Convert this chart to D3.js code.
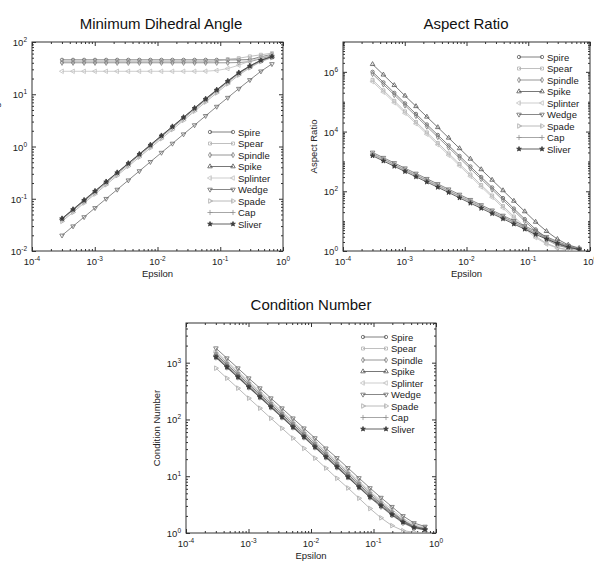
<!DOCTYPE html>
<html>
<head>
<meta charset="utf-8">
<script src="https://cdn.jsdelivr.net/npm/d3@7"></script>
<style>
    body { margin: 0; background: #fff; }
    svg { display: block; font-family: "Liberation Sans", Arial, sans-serif; }
</style>
</head>
<body>
<svg id="chart" width="594" height="566"></svg>
<script>
// shared x values (epsilon), ascending
const epsilon = [0.000301, 0.000451, 0.000677, 0.00101, 0.00152, 0.00228, 0.00343, 0.00514, 0.00771, 0.01156,
    0.0173, 0.0260, 0.0390, 0.0585, 0.0878, 0.1317, 0.1975, 0.2963, 0.4444, 0.6667];

const seriesNames = ["Spire", "Spear", "Spindle", "Spike", "Splinter", "Wedge", "Spade", "Cap", "Sliver"];
const seriesColours = ["#606060", "#b0b0b0", "#7c7c7c", "#555555", "#c0c0c0", "#6a6a6a", "#a8a8a8", "#909090", "#3a3a3a"];
const seriesMarkers = ["circle", "square", "diamond", "up", "left", "down", "right", "plus", "star"];

// Minimum dihedral angle, rows follow seriesNames
const minAngle = [
    [45.5, 45.5, 45.5, 45.5, 45.5, 45.5, 45.5, 45.5, 45.5, 45.5, 45.5, 45.5, 45.5, 45.5, 45.5, 45.5, 45.5, 46, 52, 58],
    [42, 42, 42, 42, 42, 42, 42, 42, 42, 42, 42, 42, 42, 42, 43, 47, 49, 53, 57, 61],
    [40, 40, 40, 40, 40, 40, 40, 40, 40, 40, 40, 40, 40, 40, 40, 40, 40.5, 42, 48, 55],
    [0.042, 0.063, 0.095, 0.141, 0.213, 0.319, 0.48, 0.72, 1.08, 1.62, 2.42, 3.64, 5.46, 8.2, 12.2, 18.0, 26.0, 35.0, 45.0, 53.0],
    [27.5, 27.5, 27.5, 27.5, 27.5, 27.5, 27.5, 27.5, 27.5, 27.5, 27.5, 27.5, 27.5, 27.6, 28.5, 31, 36, 43, 50, 57],
    [0.0199, 0.0298, 0.0447, 0.0667, 0.100, 0.150, 0.226, 0.339, 0.509, 0.763, 1.14, 1.72, 2.57, 3.86, 5.8, 8.6, 12.8, 18.8, 27.5, 38.0],
    [0.037, 0.055, 0.083, 0.123, 0.185, 0.278, 0.418, 0.627, 0.94, 1.41, 2.11, 3.17, 4.75, 7.1, 10.6, 15.8, 23.3, 32.0, 42.0, 50.0],
    [0.040, 0.060, 0.089, 0.133, 0.20, 0.30, 0.45, 0.68, 1.02, 1.53, 2.28, 3.43, 5.14, 7.7, 11.5, 17.0, 24.8, 33.6, 43.5, 51.5],
    [0.0415, 0.062, 0.093, 0.139, 0.21, 0.315, 0.473, 0.71, 1.06, 1.6, 2.39, 3.59, 5.38, 8.05, 12.0, 17.7, 25.6, 34.5, 44.5, 52.5]
];

const aspectRatio = [
    [1.0e6, 4.44e5, 1.98e5, 8.78e4, 3.9e4, 1.73e4, 7700, 3424, 1522, 676, 301, 134, 59.4, 26.4, 11.7, 5.3, 2.7, 1.7, 1.3, 1.15],
    [5.4e5, 2.4e5, 1.07e5, 4.74e4, 2.1e4, 9360, 4160, 1850, 822, 365, 162, 72, 32, 14.3, 6.4, 3.1, 1.8, 1.3, 1.1, 1.05],
    [8.5e5, 3.78e5, 1.68e5, 7.46e4, 3.32e4, 1.47e4, 6550, 2910, 1294, 575, 256, 114, 50.5, 22.4, 10.0, 4.6, 2.4, 1.55, 1.25, 1.12],
    [1.8e6, 8.0e5, 3.56e5, 1.58e5, 7.02e4, 3.12e4, 1.39e4, 6163, 2739, 1217, 541, 240, 107, 47.5, 21.1, 9.4, 4.6, 2.5, 1.6, 1.25],
    [4.7e5, 2.09e5, 9.28e4, 4.12e4, 1.83e4, 8150, 3620, 1610, 715, 318, 141, 63, 28, 12.4, 5.6, 2.8, 1.7, 1.25, 1.08, 1.03],
    [2000, 1333, 889, 593, 395, 263, 176, 117, 78, 52, 34.7, 23.1, 15.4, 10.3, 6.9, 4.6, 3.0, 2.1, 1.5, 1.2],
    [1700, 1133, 756, 504, 336, 224, 149, 100, 66, 44, 29.5, 19.7, 13.1, 8.8, 5.9, 3.9, 2.7, 1.9, 1.4, 1.15],
    [1800, 1200, 800, 533, 356, 237, 158, 105, 70, 47, 31.2, 20.8, 13.9, 9.3, 6.2, 4.1, 2.8, 1.95, 1.45, 1.18],
    [1550, 1033, 689, 459, 306, 204, 136, 91, 60, 40, 26.9, 17.9, 12.0, 8.0, 5.4, 3.6, 2.5, 1.8, 1.35, 1.12]
];

const conditionNumber = [
    [1300, 867, 578, 385, 257, 171, 114, 76, 51, 34, 22.5, 15.0, 10.0, 6.7, 4.5, 3.1, 2.2, 1.6, 1.28, 1.18],
    [1350, 900, 600, 400, 267, 178, 119, 79, 53, 35, 23.4, 15.6, 10.4, 6.9, 4.6, 3.2, 2.2, 1.6, 1.28, 1.18],
    [1230, 820, 547, 364, 243, 162, 108, 72, 48, 32, 21.3, 14.2, 9.5, 6.3, 4.2, 2.9, 2.05, 1.5, 1.22, 1.13],
    [1400, 933, 622, 415, 277, 184, 123, 82, 55, 36, 24.3, 16.2, 10.8, 7.2, 4.8, 3.3, 2.3, 1.65, 1.3, 1.2],
    [1600, 1067, 711, 474, 316, 211, 140, 94, 62, 42, 27.7, 18.5, 12.3, 8.2, 5.5, 3.7, 2.6, 1.8, 1.4, 1.25],
    [1800, 1200, 800, 533, 356, 237, 158, 105, 70, 47, 31, 21, 14, 9.3, 6.2, 4.2, 2.9, 2.0, 1.5, 1.3],
    [800, 533, 356, 237, 158, 105, 70, 47, 31, 20.8, 13.9, 9.2, 6.2, 4.1, 2.7, 1.85, 1.35, 1.1, 1.03, 1.01],
    [1500, 1000, 667, 444, 296, 198, 132, 88, 59, 39, 26, 17.4, 11.6, 7.7, 5.2, 3.5, 2.4, 1.7, 1.33, 1.2],
    [1250, 833, 556, 370, 247, 165, 110, 73, 49, 32.5, 21.7, 14.5, 9.6, 6.4, 4.3, 3.0, 2.1, 1.55, 1.25, 1.15]
];

const xTicks = [1e-4, 1e-3, 1e-2, 1e-1, 1];
const angleTicks = [1e-2, 1e-1, 1, 1e1, 1e2];
const aspectTicks = [1, 1e2, 1e4, 1e6];
const conditionTicks = [1, 1e1, 1e2, 1e3];

const svg = d3.select("#chart");

function symbolPath(kind) {
    const sym = d3.symbol();
    if (kind === "circle") return sym.type(d3.symbolCircle).size(9)();
    if (kind === "square") return sym.type(d3.symbolSquare).size(9)();
    if (kind === "diamond") return sym.type(d3.symbolDiamond).size(8)();
    if (kind === "plus") return sym.type(d3.symbolPlus || d3.symbolCross).size(10)();
    if (kind === "star") return sym.type(d3.symbolStar).size(7)();
    return sym.type(d3.symbolTriangle).size(9)();
}

function symbolRotation(kind) {
    return { up: 0, right: 90, down: 180, left: -90 }[kind] || 0;
}

function addMarker(g, kind, colour, x, y) {
    g.append("path")
        .attr("d", symbolPath(kind))
        .attr("transform", `translate(${x},${y}) rotate(${symbolRotation(kind)})`)
        .attr("fill", kind === "star" ? colour : "none")
        .attr("stroke", colour)
        .attr("stroke-width", 0.8);
}

function powerLabel(text, value) {
    const exp = Math.round(Math.log10(value));
    text.append("tspan").text("10");
    text.append("tspan")
        .attr("dy", -4)
        .attr("font-size", 6.5)
        .text(exp);
}

let clipCount = 0;

function drawPanel(p) {
    const width = p.right - p.left,
        height = p.bottom - p.top;

    const x = d3.scaleLog().domain([1e-4, 1]).range([0, width]),
        y = d3.scaleLog().domain(p.yDomain).range([height, 0]);

    const g = svg.append("g").attr("transform", `translate(${p.left},${p.top})`);

    svg.append("text")
        .attr("x", p.titleX)
        .attr("y", p.top - 13)
        .attr("text-anchor", "middle")
        .attr("font-size", 15)
        .attr("fill", "#111")
        .text(p.title);

    // inward ticks on all four sides, gnuplot style
    const xMinor = x.ticks().filter(v => xTicks.indexOf(v) < 0),
        yMinor = y.ticks().filter(v => p.yTicks.indexOf(v) < 0);

    const axes = [
        [d3.axisBottom(x), `translate(0,${height})`, xTicks, xMinor],
        [d3.axisTop(x), "translate(0,0)", xTicks, xMinor],
        [d3.axisLeft(y), "translate(0,0)", p.yTicks, yMinor],
        [d3.axisRight(y), `translate(${width},0)`, p.yTicks, yMinor]
    ];
    axes.forEach(([axis, tr, major, minor]) => {
        g.append("g").attr("transform", tr)
            .call(axis.tickValues(major).tickSize(-4).tickFormat(""))
            .call(s => s.select(".domain").remove())
            .selectAll("line").attr("stroke", "#333");
        g.append("g").attr("transform", tr)
            .call(axis.tickValues(minor).tickSize(-2).tickFormat(""))
            .call(s => s.select(".domain").remove())
            .selectAll("line").attr("stroke", "#333");
    });

    g.append("rect")
        .attr("width", width)
        .attr("height", height)
        .attr("fill", "none")
        .attr("stroke", "#333")
        .attr("stroke-width", 1);

    // tick labels
    xTicks.forEach(v => {
        const t = g.append("text")
            .attr("x", x(v))
            .attr("y", height + 14)
            .attr("text-anchor", "middle")
            .attr("font-size", 9.5)
            .attr("fill", "#222");
        powerLabel(t, v);
    });
    p.yTicks.forEach(v => {
        const t = g.append("text")
            .attr("x", -5)
            .attr("y", y(v) + 4)
            .attr("text-anchor", "end")
            .attr("font-size", 9.5)
            .attr("fill", "#222");
        powerLabel(t, v);
    });

    g.append("text")
        .attr("x", width / 2)
        .attr("y", height + 26)
        .attr("text-anchor", "middle")
        .attr("font-size", 9.5)
        .attr("fill", "#222")
        .text("Epsilon");

    g.append("text")
        .attr("transform", `translate(${p.yLabelX - p.left},${height / 2}) rotate(-90)`)
        .attr("text-anchor", "middle")
        .attr("font-size", 9.5)
        .attr("fill", "#222")
        .text(p.yLabel);

    const clipId = "clip" + (clipCount++);
    g.append("clipPath").attr("id", clipId)
        .append("rect").attr("x", -3).attr("y", -3)
        .attr("width", width + 6).attr("height", height + 3);

    const plot = g.append("g").attr("clip-path", `url(#${clipId})`);
    const line = d3.line()
        .x((d, i) => x(epsilon[i]))
        .y(d => y(d));

    p.values.forEach((vals, s) => {
        plot.append("path")
            .attr("d", line(vals))
            .attr("fill", "none")
            .attr("stroke", seriesColours[s])
            .attr("stroke-width", 0.8);
        vals.forEach((v, i) => addMarker(plot, seriesMarkers[s], seriesColours[s], x(epsilon[i]), y(v)));
    });

    // legend
    const lg = svg.append("g");
    seriesNames.forEach((name, s) => {
        const ly = p.legendY + s * 11.5;
        lg.append("line")
            .attr("x1", p.legendX).attr("x2", p.legendX + 23)
            .attr("y1", ly).attr("y2", ly)
            .attr("stroke", seriesColours[s])
            .attr("stroke-width", 0.8);
        addMarker(lg, seriesMarkers[s], seriesColours[s], p.legendX, ly);
        addMarker(lg, seriesMarkers[s], seriesColours[s], p.legendX + 23, ly);
        lg.append("text")
            .attr("x", p.legendX + 28)
            .attr("y", ly + 3.5)
            .attr("font-size", 9.5)
            .attr("fill", "#222")
            .text(name);
    });
}

drawPanel({
    title: "Minimum Dihedral Angle", yLabel: "Minimum Dihedral Angle",
    left: 32, right: 283, top: 42, bottom: 251, titleX: 161, yLabelX: -1,
    yDomain: [1e-2, 1e2], yTicks: angleTicks, values: minAngle,
    legendX: 210, legendY: 132
});

drawPanel({
    title: "Aspect Ratio", yLabel: "Aspect Ratio",
    left: 343, right: 590, top: 42, bottom: 251, titleX: 466, yLabelX: 317,
    yDomain: [1, 1e7], yTicks: aspectTicks, values: aspectRatio,
    legendX: 519, legendY: 57
});

drawPanel({
    title: "Condition Number", yLabel: "Condition Number",
    left: 186, right: 436, top: 323, bottom: 533, titleX: 311, yLabelX: 160,
    yDomain: [1, 5000], yTicks: conditionTicks, values: conditionNumber,
    legendX: 363, legendY: 337
});
</script>
</body>
</html>
